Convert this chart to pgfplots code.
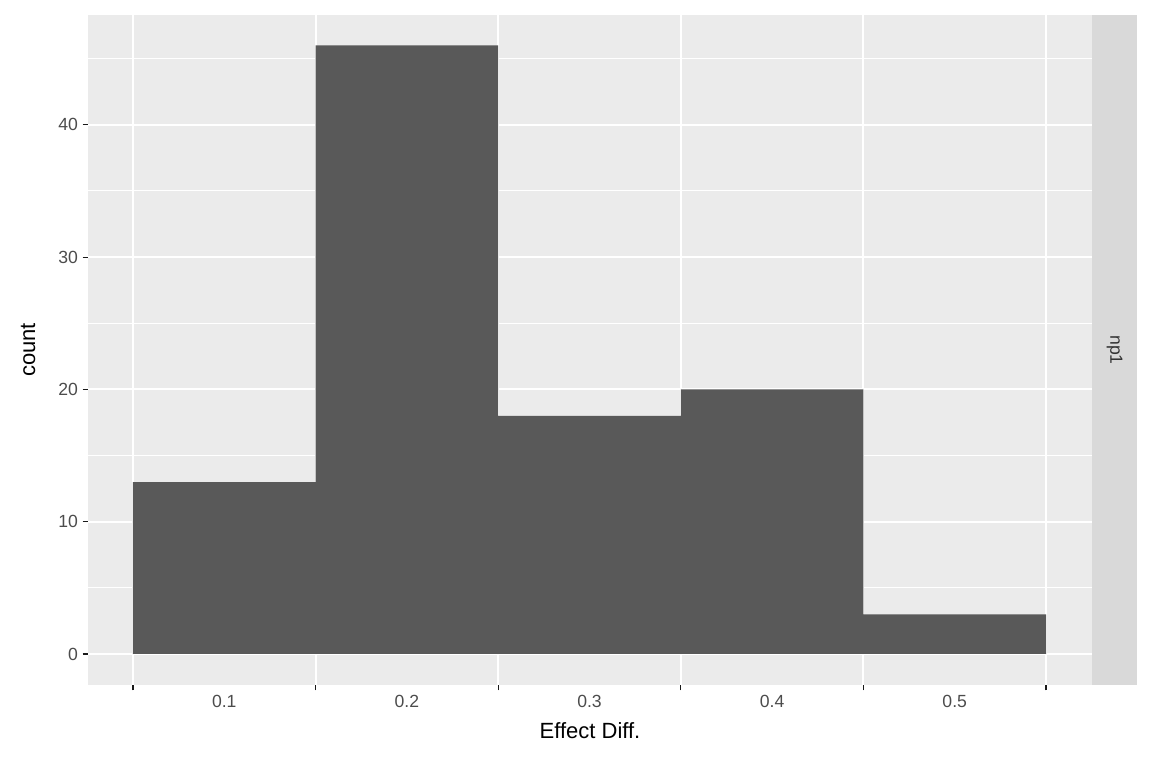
\documentclass[border=0pt]{standalone}
\usepackage{pgfplots}
\pgfplotsset{compat=1.18}
\usepackage{fontspec}
\setmainfont{Liberation Sans}
\definecolor{panel}{HTML}{EBEBEB}
\definecolor{strip}{HTML}{D9D9D9}
\definecolor{bar}{HTML}{595959}
\begin{document}
\begin{tikzpicture}
\path[use as bounding box] (0,0) rectangle (864pt,576pt);
\begin{axis}[name=ax,
  at={(66pt,62.25pt)}, anchor=south west,
  scale only axis, width=753pt, height=502.5pt,
  xmin=0.02536, xmax=0.5752, ymin=-2.344, ymax=48.3,
  axis background/.style={fill=panel},
  axis line style={draw=none},
  xtick={0.1,0.2,0.3,0.4,0.5}, ytick={0,10,20,30,40},
  xticklabels={0.1,0.2,0.3,0.4,0.5},
  minor xtick={0.05,0.15,0.25,0.35,0.45,0.55},
  minor ytick={5,15,25,35,45},
  grid=both,
  major grid style={white, line width=1.5pt},
  minor grid style={white, line width=0.75pt},
  tick align=outside, major tick length=4pt, minor tick length=0pt,
  tick style={gray!20!black, line width=0.8pt},
  xtick pos=bottom, ytick pos=left,
  ticklabel style={font=\fontsize{13.2}{14}\selectfont, text=black!70},
  /pgf/number format/assume math mode=true,
  /pgf/number format/fixed,
  xlabel={Effect Diff.}, ylabel={count},
  label style={font=\fontsize{16.5}{18}\selectfont},
  xlabel style={at={(axis description cs:0.5,0)}, anchor=north, yshift=-25pt},
  ylabel style={at={(axis description cs:0,0.5)}, anchor=south, yshift=36pt},
  ybar interval, 
]
\addplot[fill=bar, draw=none] coordinates {(0.05,13) (0.15,46) (0.25,18) (0.35,20) (0.45,3) (0.55,3)};
\end{axis}
\fill[strip] (ax.south east) rectangle ([xshift=33.75pt]ax.north east);
\node[rotate=-90, font=\fontsize{13.2}{14}\selectfont, text=black!80] at ([xshift=16.9pt]ax.east) {np1};
\end{tikzpicture}
\end{document}
